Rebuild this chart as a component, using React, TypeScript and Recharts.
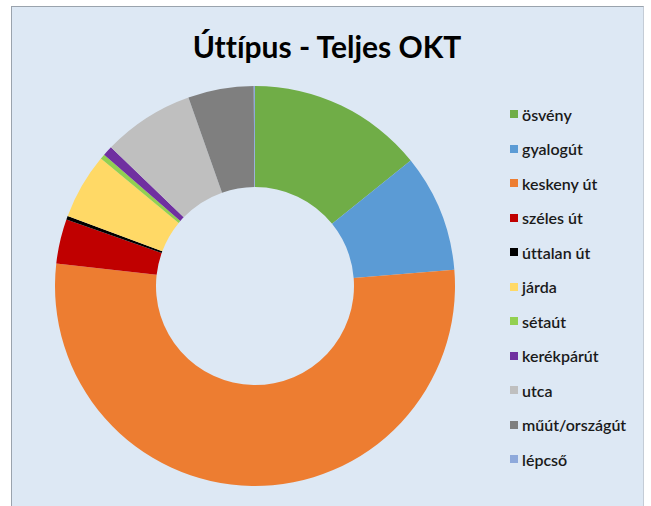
import { PieChart, Pie, Cell, Legend } from "recharts";

const roadTypes = [
  "ösvény",
  "gyalogút",
  "keskeny út",
  "széles út",
  "úttalan út",
  "járda",
  "sétaút",
  "kerékpárút",
  "utca",
  "műút/országút",
  "lépcső",
];
const shares = [14.2, 9.5, 53.1, 3.6, 0.3, 5.3, 0.4, 0.8, 7.4, 5.3, 0.1];
const colors = [
  "#70ad47",
  "#5b9bd5",
  "#ed7d31",
  "#c00000",
  "#000000",
  "#ffd966",
  "#92d050",
  "#7030a0",
  "#bfbfbf",
  "#7f7f7f",
  "#8ea9db",
];
const title = "Úttípus - Teljes OKT";

const data = roadTypes.map((name, i) => ({ name, value: shares[i] }));

const font = "Lato, 'Open Sans', sans-serif";

function renderLegend() {
  return (
    <div style={{ fontFamily: font, fontVariantLigatures: "none" }}>
      {roadTypes.map((name, i) => (
        <div key={name} style={{ display: "flex", alignItems: "center", height: 34.5 }}>
          <span style={{ width: 8, height: 8, background: colors[i], marginRight: 4 }} />
          <span style={{ fontSize: 16, color: "#1a1a1a", fontWeight: 600 }}>{name}</span>
        </div>
      ))}
    </div>
  );
}

export default function App() {
  return (
    <div style={{ position: "fixed", left: 0, top: 0, width: 651, height: 506, background: "#fff" }}>
      <div
        style={{
          position: "absolute",
          left: 11,
          top: 6,
          width: 631,
          height: 510,
          background: "#dde8f4",
          borderLeft: "1px solid #9aa3ad",
          borderTop: "1px solid #9aa3ad",
          borderRight: "1px solid #c4ccd6",
        }}
      />
      <div style={{ position: "absolute", left: 0, top: 0 }}>
        <PieChart width={651} height={506} margin={{ top: 0, right: 0, bottom: 0, left: 0 }}>
          <text
            x={327}
            y={58}
            textAnchor="middle"
            fontFamily={font}
            fontWeight={700}
            fontSize={30}
            fill="#000"
            style={{ fontVariantLigatures: "none" }}
          >
            {title}
          </text>
          <Pie
            data={data}
            dataKey="value"
            nameKey="name"
            cx={255}
            cy={286}
            innerRadius={99}
            outerRadius={200}
            startAngle={90}
            endAngle={-270}
            stroke="none"
            isAnimationActive={false}
          >
            {data.map((d, i) => (
              <Cell key={d.name} fill={colors[i]} />
            ))}
          </Pie>
          <Legend
            layout="vertical"
            content={renderLegend}
            wrapperStyle={{ position: "absolute", left: 510, top: 97, width: 140 }}
          />
        </PieChart>
      </div>
    </div>
  );
}
